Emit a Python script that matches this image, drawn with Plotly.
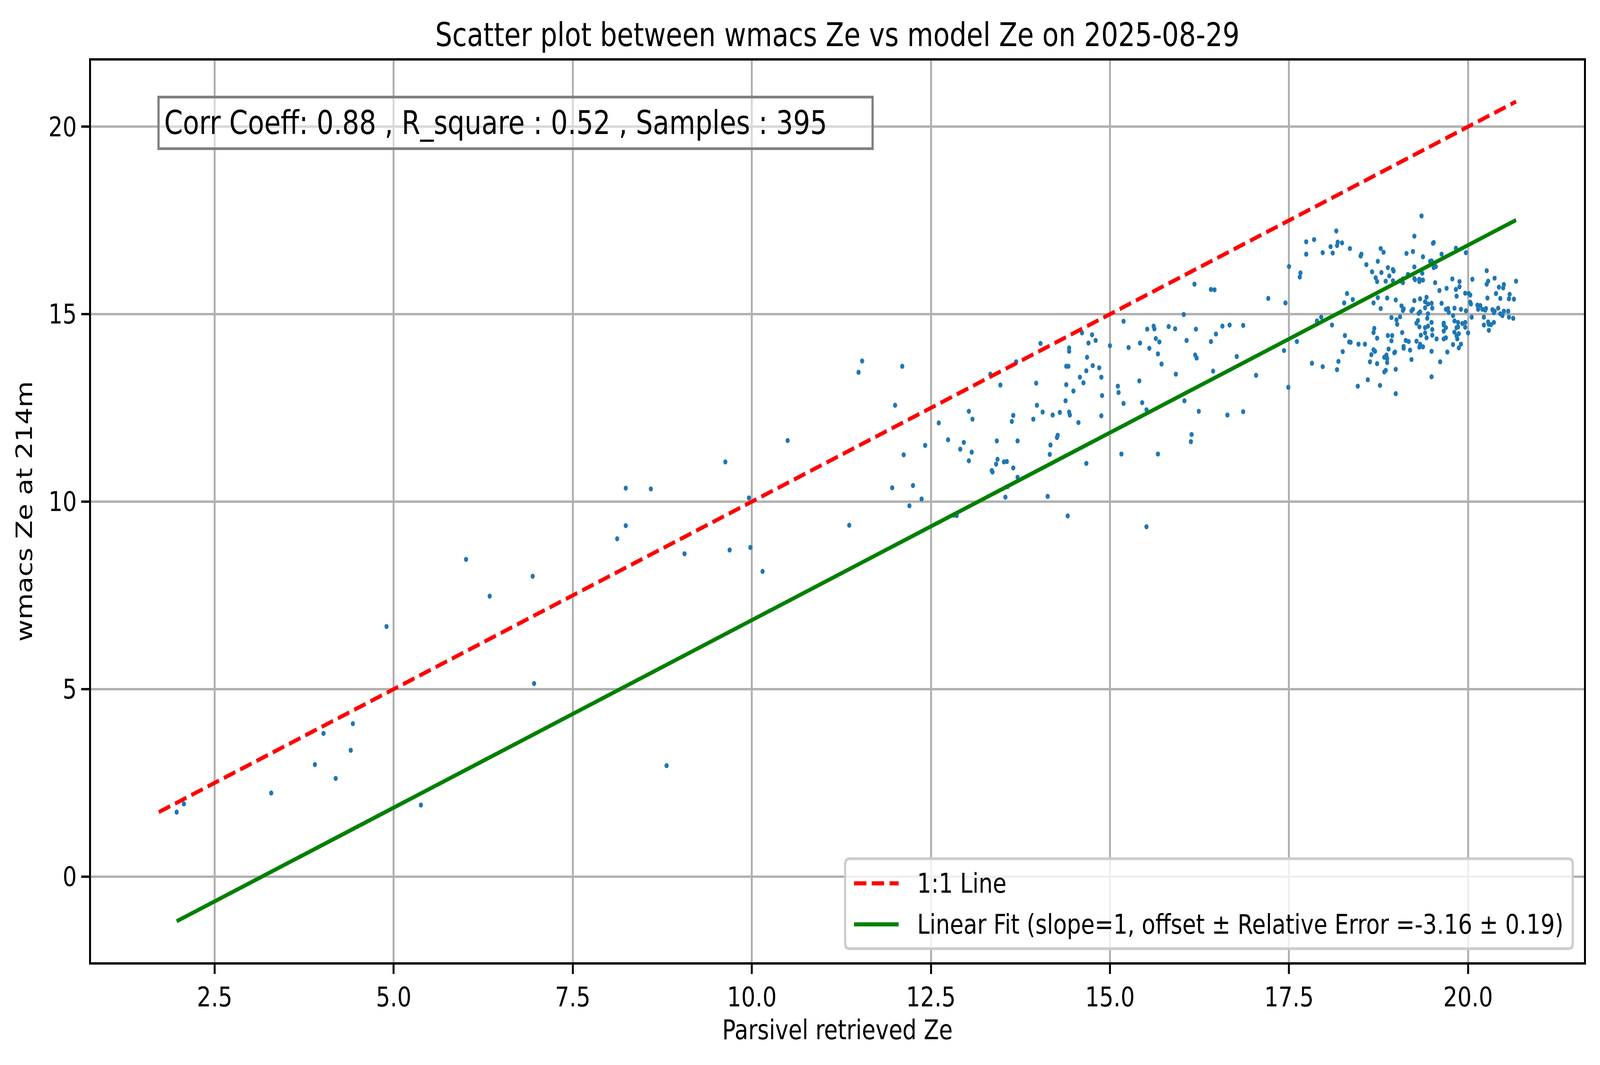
import numpy as np
import plotly.graph_objects as go

# ---------------- data ----------------
parsivel_ze = [
    1.97, 2.07, 3.29, 3.90, 4.19, 4.02, 4.40, 4.43, 4.90, 5.38, 6.01, 6.34, 6.94, 6.96,
    8.24, 8.59, 8.24, 8.12, 9.06, 9.63, 9.96, 9.69, 9.98, 10.15, 10.50, 8.81, 11.36, 11.49,
    11.54, 12.10, 12.00, 12.12, 12.42, 11.96, 12.25, 12.20, 12.37,
    12.61, 12.74, 12.91, 12.96, 13.03, 13.08, 13.07, 13.03, 12.82, 12.86,
    13.33, 13.47, 13.69, 13.42, 13.43, 13.41, 13.35, 13.36, 13.52, 13.56,
    13.65, 13.71, 13.57, 13.54, 13.63, 13.65, 13.71, 14.03, 13.97, 13.98,
    13.93, 14.06, 14.20, 14.30, 14.17, 14.16, 14.26, 14.27, 14.13, 14.41,
    14.43, 14.43, 14.39, 14.42, 14.39, 14.38, 14.43, 14.44, 14.49, 14.56,
    14.61, 14.70, 14.75, 14.80, 14.68, 14.76, 14.85, 14.67, 14.58, 14.63,
    14.88, 14.89, 14.88, 14.67, 15.00, 15.11, 15.12, 15.19, 15.19, 15.16,
    15.26, 15.42, 15.41, 15.45, 15.51, 15.51, 15.52, 15.55, 15.61, 15.62,
    15.64, 15.69, 15.67, 15.72, 15.67, 15.82, 15.91, 15.92, 16.03, 16.07,
    16.04, 16.14, 16.13, 16.18, 16.20, 16.19, 16.21, 16.24, 16.41, 16.46,
    16.41, 16.48, 16.44, 16.57, 16.67, 16.64, 16.77, 16.86, 16.86, 17.04,
    17.21, 17.43, 17.45, 17.49, 17.50,
    17.74, 17.85, 17.74, 17.66, 17.65, 17.97, 18.16, 18.08, 18.11, 18.18,
    18.17, 18.24, 18.35, 18.51, 18.50, 18.58, 18.31, 18.39, 18.27,
    17.89, 17.95, 18.10, 17.61, 18.28, 18.34, 18.36, 18.47, 18.56, 18.25,
    18.19, 18.17, 17.82, 17.97, 18.46, 18.60,
    19.35, 19.25, 18.78, 18.82, 19.14, 19.23, 19.37, 18.74, 18.66, 18.79,
    18.88, 18.95, 18.96, 18.90, 18.71, 18.73, 18.85, 18.95, 19.05, 19.09,
    19.09, 19.16, 19.25, 19.25, 19.26, 19.32, 19.32, 19.36, 19.37, 18.74,
    18.68, 18.78, 18.87, 18.99, 19.07, 19.10, 19.09, 19.25, 19.33, 19.42,
    19.40, 19.44, 19.40, 19.23, 19.21, 19.33, 19.31, 19.44,
    18.93, 19.05, 19.00, 19.01, 19.43, 19.30, 19.28, 19.32, 19.40, 19.44,
    19.40, 19.42, 19.34, 19.28, 19.33, 19.32, 19.37, 19.08, 18.69, 18.68,
    18.73, 18.88, 18.94, 18.93, 19.13, 19.17, 19.10, 19.10, 19.19, 19.21,
    18.68, 18.70, 18.65, 18.89, 18.97, 18.98, 18.86, 18.83, 18.87, 18.87,
    18.63, 18.73, 18.85, 18.83, 18.99, 18.77, 18.99,
    19.51, 19.52, 19.63, 19.83, 19.97, 19.47, 19.49, 19.52, 19.55, 19.54,
    19.60, 19.70, 19.78, 19.88, 19.88, 19.83, 19.84, 20.06, 19.96, 20.03,
    20.01, 20.03, 20.04, 20.13, 20.14, 19.49, 19.50, 19.63, 19.69, 19.72,
    19.73, 19.81, 19.90, 19.97,
    19.79, 20.05, 19.49, 19.50, 19.50, 19.56, 19.49, 19.61, 19.49, 19.66,
    19.66, 19.69, 19.66, 19.66, 19.69, 19.71, 19.79, 19.81, 19.86, 19.92,
    19.96, 19.96, 19.84, 19.86, 19.81, 19.87, 19.84, 19.85, 19.90, 19.87,
    20.00,
    20.26, 20.37, 20.28, 20.26, 20.67, 20.43, 20.50, 20.49, 20.39, 20.27,
    20.45, 20.58, 20.57, 20.64, 20.17, 20.20, 20.25, 20.24, 20.34, 20.37,
    20.36, 20.42, 20.45, 20.48, 20.50, 20.56, 20.57, 20.63, 20.22, 20.28,
    20.29, 20.32, 20.36, 20.22, 20.29,
]
wmacs_ze = [
    1.72, 1.94, 2.23, 2.99, 2.62, 3.82, 3.37, 4.08, 6.67, 1.91, 8.46, 7.48, 8.01, 5.15,
    10.36, 10.34, 9.36, 9.01, 8.61, 11.06, 10.10, 8.71, 8.78, 8.14, 11.63, 2.96, 9.37, 13.45,
    13.75, 13.61, 12.57, 11.25, 11.50, 10.37, 10.43, 9.89, 10.07,
    12.10, 11.65, 11.40, 11.58, 12.41, 12.20, 11.32, 11.09, 9.64, 9.63,
    13.40, 13.11, 13.73, 11.62, 11.13, 11.00, 10.83, 10.79, 11.06, 11.07,
    10.90, 10.65, 10.40, 10.12, 12.14, 12.30, 11.62, 14.22, 13.16, 12.57,
    12.20, 12.39, 12.31, 12.38, 11.51, 11.26, 11.71, 11.77, 10.14, 9.62,
    14.10, 14.01, 13.61, 13.61, 13.12, 12.69, 12.39, 12.31, 12.95, 12.11,
    14.50, 14.23, 14.45, 14.30, 13.85, 13.63, 13.57, 13.49, 13.32, 13.17,
    13.32, 12.83, 12.29, 11.02, 14.16, 13.08, 12.91, 12.62, 14.81, 11.27,
    14.11, 14.23, 13.22, 12.64, 12.45, 9.33, 14.60, 14.09, 14.68, 14.61,
    14.35, 14.26, 13.94, 13.67, 11.27, 14.67, 14.61, 13.40, 14.99, 14.30,
    12.69, 11.79, 11.60, 15.80, 14.60, 13.91, 13.83, 12.41, 15.66, 15.65,
    14.27, 14.47, 13.48, 14.68, 14.71, 12.31, 13.87, 14.70, 12.40, 13.37,
    15.42, 14.03, 15.30, 13.05, 16.27,
    16.93, 16.99, 16.60, 16.10, 15.99, 16.64, 17.22, 16.80, 16.63, 16.92,
    16.83, 16.90, 16.75, 16.60, 16.55, 16.32, 15.55, 15.39, 15.30,
    14.82, 14.92, 14.71, 14.27, 14.43, 14.26, 14.25, 14.20, 14.20, 14.00,
    13.74, 13.52, 13.69, 13.60, 13.08, 13.25,
    17.62, 17.08, 16.75, 16.65, 16.62, 16.67, 16.53, 16.41, 16.13, 16.11,
    16.24, 16.19, 16.15, 16.02, 15.97, 15.87, 15.88, 15.89, 15.89, 15.94,
    15.84, 16.06, 16.26, 15.95, 15.92, 15.93, 15.87, 16.09, 15.91, 15.44,
    15.30, 15.15, 15.43, 15.38, 15.22, 15.14, 15.10, 15.36, 15.41, 15.45,
    15.33, 15.27, 15.17, 15.13, 15.09, 15.06, 15.02, 15.01,
    14.91, 14.93, 14.85, 14.73, 14.89, 14.83, 14.76, 14.66, 14.64, 14.68,
    14.50, 14.37, 14.44, 14.28, 14.20, 14.12, 14.13, 14.51, 14.62, 14.51,
    14.36, 14.43, 14.43, 14.29, 14.30, 14.27, 14.14, 14.09, 14.04, 13.79,
    14.05, 14.01, 13.92, 14.07, 13.97, 13.99, 13.91, 13.85, 13.82, 13.71,
    13.73, 13.68, 13.50, 13.46, 13.53, 13.10, 12.88,
    16.89, 16.91, 16.60, 16.76, 16.64, 16.41, 16.42, 16.24, 16.27, 15.84,
    15.63, 15.69, 15.94, 15.87, 15.73, 15.66, 15.48, 15.93, 15.56, 15.51,
    15.55, 15.32, 15.27, 15.24, 15.13, 15.29, 15.16, 15.29, 15.13, 15.15,
    15.05, 15.16, 15.13, 15.09,
    14.96, 14.92, 14.78, 14.59, 14.44, 14.34, 14.01, 13.73, 13.33, 14.76,
    14.71, 14.64, 14.55, 14.34, 14.37, 13.99, 14.19, 14.82, 14.78, 14.75,
    14.78, 14.65, 14.64, 14.66, 14.52, 14.48, 14.42, 14.34, 14.20, 14.10,
    14.50,
    16.16, 15.96, 15.88, 15.80, 15.88, 15.72, 15.79, 15.70, 15.55, 15.43,
    15.42, 15.53, 15.41, 15.40, 15.23, 15.13, 15.15, 15.11, 15.12, 15.08,
    15.04, 15.16, 15.01, 14.96, 15.08, 15.08, 14.92, 14.89, 14.92, 14.79,
    14.73, 14.72, 14.78, 14.71, 14.57,
]

corr_coeff = 0.88
r_square = 0.52
n_samples = 395
fit_slope = 1
fit_offset = -3.16
fit_rel_err = 0.19

title_text = "Scatter plot between wmacs Ze vs model Ze on 2025-08-29"
x_label = "Parsivel retrieved Ze"
y_label = "wmacs Ze at 214m"
label_one_to_one = "1:1 Line"
label_fit = (f"Linear Fit (slope={fit_slope}, offset \u00b1 Relative Error "
             f"={fit_offset:.2f} \u00b1 {fit_rel_err:.2f})")
stats_text = (f"Corr Coeff: {corr_coeff:.2f} , R_square : {r_square:.2f} , "
              f"Samples : {n_samples}")

# ---------------- geometry / style ----------------
W, H = 4981, 2726
ML, MR, MT, MB = 283, 50, 155, 263
PW, PH = W - ML - MR, H - MT - MB
PT = 6.94                      # pixels per typographic point
FONT = "DejaVu Sans"
FS = 10 * PT                   # 10 pt
FS_T = 12 * PT                 # 12 pt
LW = 1.5 * PT                  # line width
DASH = f"{3.7 * LW:.1f}px,{1.6 * LW:.1f}px"
BLUE = "#1f77b4"

x = np.array(parsivel_ze)
y = np.array(wmacs_ze)

one_lo = min(x.min(), y.min())
one_hi = max(x.max(), y.max())
one_x = [one_lo, one_hi]
fit_x = np.array([x.min(), x.max()])
fit_y = fit_slope * fit_x + fit_offset

all_x = np.concatenate([x, one_x, fit_x])
all_y = np.concatenate([y, one_x, fit_y])
xs = all_x.max() - all_x.min()
ys = all_y.max() - all_y.min()
xr = [all_x.min() - 0.05 * xs, all_x.max() + 0.05 * xs]
yr = [all_y.min() - 0.05 * ys, all_y.max() + 0.05 * ys]


def px_x(px):
    return (px - ML) / PW


def px_y(py):
    return (H - MB - py) / PH


fig = go.Figure()
fig.add_trace(go.Scatter(
    x=x, y=y, mode="markers", name="data",
    marker=dict(color=BLUE, size=13, line=dict(width=0)),
    showlegend=False))
fig.add_trace(go.Scatter(
    x=one_x, y=one_x, mode="lines", name=label_one_to_one,
    line=dict(color="red", width=LW, dash=DASH),
    showlegend=False))
fig.add_trace(go.Scatter(
    x=fit_x, y=fit_y, mode="lines", name=label_fit,
    line=dict(color="green", width=LW),
    showlegend=False))

axis_common = dict(
    showgrid=True, gridcolor="#b0b0b0", gridwidth=0.8 * PT,
    zeroline=False, showline=True, linecolor="black", linewidth=0.8 * PT,
    mirror=True, ticks="outside", ticklen=3.5 * PT, tickwidth=0.8 * PT,
    tickcolor="black", tickfont=dict(family=FONT, size=FS, color="black"),
    automargin=False,
)
fig.update_xaxes(range=xr, tick0=0, dtick=2.5, tickformat=".1f",
                 title=dict(text=x_label, font=dict(family=FONT, size=FS, color="black"),
                            standoff=22),
                 **axis_common)
fig.update_yaxes(range=yr, tick0=0, dtick=5, tickformat="d",
                 title=dict(text=y_label, font=dict(family=FONT, size=FS, color="black"),
                            standoff=30),
                 **axis_common)

# ---- legend drawn like matplotlib's (lower right) ----
leg_x0, leg_x1 = 2631, W - MR - 0.5 * FS
leg_y1 = H - MB - 0.5 * FS
leg_y0 = 2198
row_c = [2261, 2366]
h_x0 = leg_x0 + 0.4 * FS
h_x1 = h_x0 + 2.0 * FS
t_x = h_x1 + 0.8 * FS
r = 0.2 * FS
rx, ry = r / PW, r / PH
X0, X1, Y0, Y1 = px_x(leg_x0), px_x(leg_x1), px_y(leg_y1), px_y(leg_y0)
path = (f"M{X0 + rx},{Y0} L{X1 - rx},{Y0} Q{X1},{Y0} {X1},{Y0 + ry} "
        f"L{X1},{Y1 - ry} Q{X1},{Y1} {X1 - rx},{Y1} L{X0 + rx},{Y1} "
        f"Q{X0},{Y1} {X0},{Y1 - ry} L{X0},{Y0 + ry} Q{X0},{Y0} {X0 + rx},{Y0} Z")
shapes = [
    dict(type="path", path=path, xref="paper", yref="paper", layer="above",
         fillcolor="rgba(255,255,255,0.8)", line=dict(color="#cccccc", width=1.0 * PT)),
    dict(type="line", xref="paper", yref="paper", layer="above",
         x0=px_x(h_x0), x1=px_x(h_x1), y0=px_y(row_c[0]), y1=px_y(row_c[0]),
         line=dict(color="red", width=LW, dash=DASH)),
    dict(type="line", xref="paper", yref="paper", layer="above",
         x0=px_x(h_x0), x1=px_x(h_x1), y0=px_y(row_c[1]), y1=px_y(row_c[1]),
         line=dict(color="green", width=LW)),
]
annotations = [
    dict(text=label_one_to_one, xref="paper", yref="paper", x=px_x(t_x), y=px_y(row_c[0]),
         xanchor="left", yanchor="middle", showarrow=False,
         font=dict(family=FONT, size=FS, color="black")),
    dict(text=label_fit, xref="paper", yref="paper", x=px_x(t_x), y=px_y(row_c[1]),
         xanchor="left", yanchor="middle", showarrow=False,
         font=dict(family=FONT, size=FS, color="black")),
    # stats text box (upper left)
    dict(text=stats_text, xref="paper", yref="paper",
         x=0.05 - 0.3 * FS_T / PW, y=0.95 + 0.3 * FS_T / PH,
         xanchor="left", yanchor="top", showarrow=False, align="left",
         width=2230 - 2 * 14 - 2 * PT, borderpad=14, borderwidth=PT,
         bordercolor="#808080", bgcolor="rgba(255,255,255,0.5)",
         font=dict(family=FONT, size=FS_T, color="black")),
]

fig.update_layout(
    width=W, height=H,
    margin=dict(l=ML, r=MR, t=MT, b=MB, pad=0),
    paper_bgcolor="white", plot_bgcolor="white",
    title=dict(text=title_text, x=px_x(ML + PW / 2), xref="paper",
               y=1 - 89 / H, yref="container", xanchor="center", yanchor="middle",
               font=dict(family=FONT, size=FS_T, color="black")),
    showlegend=False,
    shapes=shapes,
    annotations=annotations,
    font=dict(family=FONT, color="black"),
)

# Fit the fixed-size figure exactly into whatever CSS viewport the browser offers
fit_script = """
var gd = document.getElementById('{plot_id}');
var W = %d, H = %d;
var sx = window.innerWidth / W, sy = window.innerHeight / H;
document.documentElement.style.margin = '0';
document.documentElement.style.padding = '0';
document.documentElement.style.overflow = 'hidden';
document.body.style.margin = '0';
document.body.style.padding = '0';
document.body.style.overflow = 'hidden';
var wrap = gd.parentElement;
wrap.style.width = (W * sx) + 'px';
wrap.style.height = (H * sy) + 'px';
wrap.style.overflow = 'hidden';
gd.style.transformOrigin = '0 0';
gd.style.transform = 'scale(' + sx + ',' + sy + ')';
""" % (W, H)

fig.write_html("out.html", config={"displayModeBar": False}, post_script=fit_script)
